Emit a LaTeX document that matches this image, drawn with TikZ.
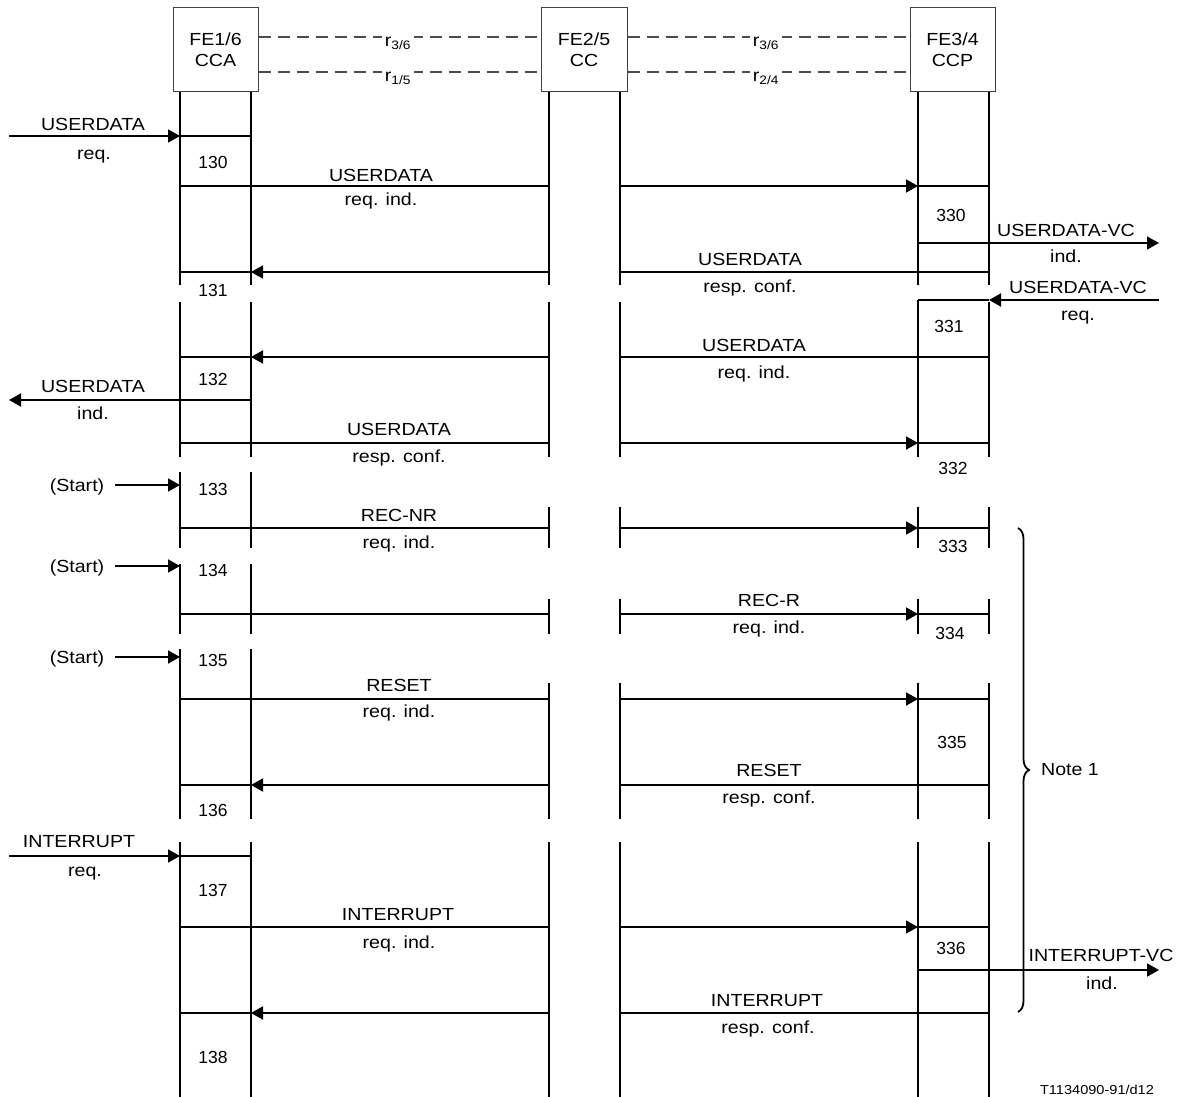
\documentclass[tikz,border=0pt]{standalone}
\usepackage{fontspec}
\setmainfont{Liberation Sans}
\newfontfamily\wide{Liberation Sans}[FakeStretch=1.12]
\usetikzlibrary{arrows.meta,decorations.pathreplacing}
\begin{document}
\begin{tikzpicture}[x=1pt,y=-1pt,
  lab/.style={font=\wide\fontsize{17.5}{20}\selectfont, inner sep=0pt, text height=12.5pt, text depth=0pt},
  num/.style={font=\fontsize{17.5}{20}\selectfont, inner sep=0pt, text height=12.5pt, text depth=0pt},
  small/.style={font=\wide\fontsize{13}{15}\selectfont, inner sep=0pt},
  life/.style={line width=1.9pt},
  thinlife/.style={line width=1.2pt},
  msg/.style={line width=1.9pt},
  thinmsg/.style={line width=1.2pt},
  tip/.style={-{Triangle[length=12pt,width=13pt]}},
  fe/.style={draw=black!75, line width=1pt, fill=white, minimum width=85pt, minimum height=84pt, align=center, font=\wide\fontsize{17.5}{21}\selectfont, inner sep=0pt},
  rel/.style={draw=black!70, line width=1.1pt, dash pattern=on 12pt off 7pt},
  rlbl/.style={font=\wide\fontsize{17.5}{20}\selectfont, fill=white, inner xsep=3pt, inner ysep=0pt, text height=12pt, text depth=6pt, anchor=base}
]
\useasboundingbox (0,0) rectangle (1183,1097);
% lifeline coordinates
\coordinate (W) at (9,0);
\coordinate (S) at (115,0);
\coordinate (A) at (180,0);
\coordinate (B) at (251,0);
\coordinate (C) at (549,0);
\coordinate (D) at (620,0);
\coordinate (E) at (918,0);
\coordinate (F) at (989,0);
\coordinate (Z) at (1159,0);
% functional entity boxes
\node[fe] (fe1) at (215.5,50) {FE1/6\\CCA};
\node[fe, minimum width=86pt] (fe2) at (584,50) {FE2/5\\CC};
\node[fe] (fe3) at (952.5,50) {FE3/4\\CCP};
% relationships
\draw[rel] (fe1.east |- 0,37) -- (fe2.west |- 0,37);
\draw[rel] (fe1.east |- 0,72) -- (fe2.west |- 0,72);
\draw[rel] (fe2.east |- 0,37) -- (fe3.west |- 0,37);
\draw[rel] (fe2.east |- 0,72) -- (fe3.west |- 0,72);
\node[rlbl] (ra) at (398,47) {r\textsubscript{3/6}};
\node[rlbl] (rb) at (398,82) {r\textsubscript{1/5}};
\node[rlbl] (rc) at (766,47) {r\textsubscript{3/6}};
\node[rlbl] (rd) at (766,82) {r\textsubscript{2/4}};
% lifelines
\foreach \l in {A,B}
  \foreach \a/\b in {92/285,302/457,472/548,564/634,649/819,842/1097}
    \draw[life] (\l|-0,\a) -- (\l|-0,\b);
\foreach \l in {C,D}
  \foreach \a/\b in {92/285,302/457,507/548,599/634,683/819,842/1097}
    \draw[life] (\l|-0,\a) -- (\l|-0,\b);
\foreach \a/\b in {92/285,300/457,507/548,599/634,683/819,842/1097}
  \draw[life] (E|-0,\a) -- (E|-0,\b);
\foreach \a/\b in {92/285,302/457,507/548,599/634,683/819,842/1097}
  \draw[thinlife] (F|-0,\a) -- (F|-0,\b);
% USERDATA req.
\draw[msg,tip] (W|-0,136) -- (A|-0,136);
\draw[msg] (A|-0,136) -- (B|-0,136);
\node[lab] (t1) at (93,124) {USERDATA};
\node[lab] (t2) at (94,153) {req.};
\node[num] (n130) at (213,162) {130};
% USERDATA req. ind.
\draw[msg] (A|-0,186) -- (C|-0,186);
\draw[msg,tip] (D|-0,186) -- (E|-0,186);
\draw[msg] (E|-0,186) -- (F|-0,186);
\node[lab] (t3) at (381,175) {USERDATA};
\node[lab] (t4) at (381,199) {req. ind.};
\node[num] (n330) at (951,215) {330};
% USERDATA-VC ind.
\draw[thinmsg,tip] (E|-0,243) -- (Z|-0,243);
\node[lab] (t5) at (1066,230) {USERDATA-VC};
\node[lab] (t6) at (1066,256) {ind.};
% USERDATA resp. conf.
\draw[msg] (F|-0,272) -- (D|-0,272);
\draw[msg,tip] (C|-0,272) -- (B|-0,272);
\draw[msg] (B|-0,272) -- (A|-0,272);
\node[lab] (t7) at (750,259) {USERDATA};
\node[lab] (t8) at (750,286) {resp. conf.};
\node[num] (n131) at (213,290) {131};
% USERDATA-VC req.
\draw[msg,tip] (Z|-0,300) -- (F|-0,300);
\draw[msg] (F|-0,300) -- (E|-0,300);
\node[lab] (t9) at (1078,287) {USERDATA-VC};
\node[lab] (t10) at (1078,314) {req.};
\node[num] (n331) at (949,326) {331};
% USERDATA req. ind. (backward)
\draw[msg] (F|-0,357) -- (D|-0,357);
\draw[msg,tip] (C|-0,357) -- (B|-0,357);
\draw[msg] (B|-0,357) -- (A|-0,357);
\node[lab] (t11) at (754,345) {USERDATA};
\node[lab] (t12) at (754,372) {req. ind.};
\node[num] (n132) at (213,379) {132};
% USERDATA ind.
\draw[msg,tip] (B|-0,400) -- (W|-0,400);
\node[lab] (t13) at (93,386) {USERDATA};
\node[lab] (t14) at (93,413) {ind.};
% USERDATA resp. conf. (forward)
\draw[msg] (A|-0,443) -- (C|-0,443);
\draw[msg,tip] (D|-0,443) -- (E|-0,443);
\draw[msg] (E|-0,443) -- (F|-0,443);
\node[lab] (t15) at (399,429) {USERDATA};
\node[lab] (t16) at (399,456) {resp. conf.};
\node[num] (n332) at (953,468) {332};
% REC-NR
\node[lab] (s1) at (77,485) {(Start)};
\draw[msg,tip] (S|-0,485) -- (A|-0,485);
\node[num] (n133) at (213,489) {133};
\draw[msg] (A|-0,528) -- (C|-0,528);
\draw[msg,tip] (D|-0,528) -- (E|-0,528);
\draw[msg] (E|-0,528) -- (F|-0,528);
\node[lab] (t17) at (399,515) {REC-NR};
\node[lab] (t18) at (399,542) {req. ind.};
\node[num] (n333) at (953,546) {333};
% REC-R
\node[lab] (s2) at (77,566) {(Start)};
\draw[msg,tip] (S|-0,566) -- (A|-0,566);
\node[num] (n134) at (213,570) {134};
\draw[msg] (A|-0,614) -- (C|-0,614);
\draw[msg,tip] (D|-0,614) -- (E|-0,614);
\draw[msg] (E|-0,614) -- (F|-0,614);
\node[lab] (t19) at (769,600) {REC-R};
\node[lab] (t20) at (769,627) {req. ind.};
\node[num] (n334) at (950,633) {334};
% RESET
\node[lab] (s3) at (77,657) {(Start)};
\draw[msg,tip] (S|-0,657) -- (A|-0,657);
\node[num] (n135) at (213,660) {135};
\draw[msg] (A|-0,699) -- (C|-0,699);
\draw[msg,tip] (D|-0,699) -- (E|-0,699);
\draw[msg] (E|-0,699) -- (F|-0,699);
\node[lab] (t21) at (399,685) {RESET};
\node[lab] (t22) at (399,711) {req. ind.};
\node[num] (n335) at (952,742) {335};
\draw[msg] (F|-0,785) -- (D|-0,785);
\draw[msg,tip] (C|-0,785) -- (B|-0,785);
\draw[msg] (B|-0,785) -- (A|-0,785);
\node[lab] (t23) at (769,770) {RESET};
\node[lab] (t24) at (769,797) {resp. conf.};
\node[num] (n136) at (213,810) {136};
% INTERRUPT
\draw[msg,tip] (W|-0,856) -- (A|-0,856);
\draw[msg] (A|-0,856) -- (B|-0,856);
\node[lab] (t25) at (79,841) {INTERRUPT};
\node[lab] (t26) at (85,870) {req.};
\node[num] (n137) at (213,890) {137};
\draw[thinmsg] (A|-0,927) -- (C|-0,927);
\draw[thinmsg,tip] (D|-0,927) -- (E|-0,927);
\draw[thinmsg] (E|-0,927) -- (F|-0,927);
\node[lab] (t27) at (398,914) {INTERRUPT};
\node[lab] (t28) at (399,942) {req. ind.};
\node[num] (n336) at (951,948) {336};
\draw[msg,tip] (E|-0,970) -- (Z|-0,970);
\node[lab] (t29) at (1101,955) {INTERRUPT-VC};
\node[lab] (t30) at (1102,983) {ind.};
\draw[msg] (F|-0,1013) -- (D|-0,1013);
\draw[msg,tip] (C|-0,1013) -- (B|-0,1013);
\draw[msg] (B|-0,1013) -- (A|-0,1013);
\node[lab] (t31) at (767,1000) {INTERRUPT};
\node[lab] (t32) at (768,1027) {resp. conf.};
\node[num] (n138) at (213,1057) {138};
% Note brace
\coordinate (bt) at (1018,528);
\coordinate (bb) at (1018,1012);
\draw[line width=1.8pt, decorate, decoration={brace, amplitude=11pt}] (bt) -- (bb);
\node[lab] (note) at (1070,769) {Note 1};
\node[small] (ref) at (1097,1090) {T1134090-91/d12};
\end{tikzpicture}
\end{document}
